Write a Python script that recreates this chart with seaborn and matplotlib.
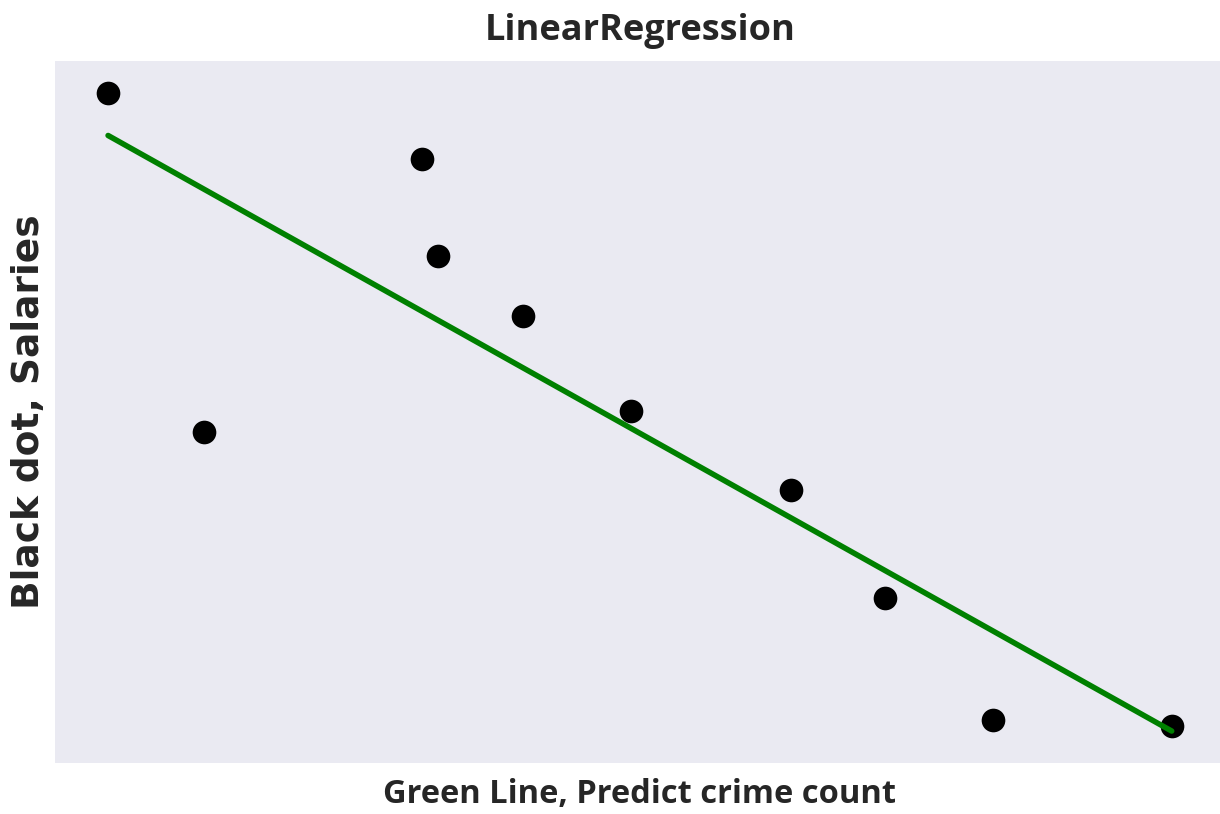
import numpy as np
import pandas as pd
import matplotlib
matplotlib.use("Agg")
import matplotlib.pyplot as plt
import seaborn as sns

# crime count (feature) and salaries (target)
crime_count = [0.0, 9.0, 29.5, 31.0, 39.0, 49.2, 64.2, 73.0, 83.2, 100.0]
salaries = [80.0, 47.8, 73.7, 64.5, 58.8, 49.8, 42.3, 32.1, 20.5, 20.0]

df = pd.DataFrame({"crime_count": crime_count, "salaries": salaries})

sns.set_style("dark")

fig = plt.figure(figsize=(12.2, 8.14), dpi=100)
ax = fig.add_axes([0.045, 0.0627, 0.959, 0.8625])

sns.regplot(data=df, x="crime_count", y="salaries", ci=None, ax=ax,
            scatter_kws={"color": "black", "s": 290, "alpha": 1, "linewidths": 0},
            line_kws={"color": "green", "linewidth": 4})

ax.set_xticks([])
ax.set_yticks([])
for s in ax.spines.values():
    s.set_visible(False)

ax.set_title("LinearRegression", fontsize=26, fontweight="bold",
             family=["Open Sans", "DejaVu Sans"], color="#262626", pad=15)
ax.set_xlabel("Green Line, Predict crime count", fontsize=23.5, fontweight="bold",
              family=["Open Sans", "DejaVu Sans"], color="#262626", labelpad=11)
ax.set_ylabel("Black dot, Salaries", fontsize=27, fontweight="bold",
              family=["DejaVu Sans"], color="#262626", labelpad=6)

fig.savefig("out.png", dpi=100)
